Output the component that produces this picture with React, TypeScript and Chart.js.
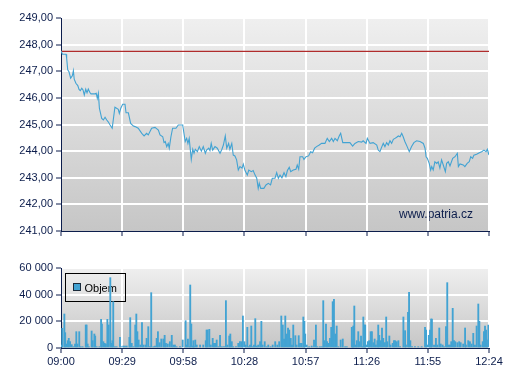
import React, { useEffect, useRef } from 'react';
import { Chart, registerables } from 'chart.js';

Chart.register(...registerables);

// ---------- data ----------
const TICK_LABELS = ['09:00', '09:29', '09:58', '10:28', '10:57', '11:26', '11:55', '12:24'];
const SESSION_MIN = 204; // minutes from 09:00 to 12:24
const PREV_CLOSE = 247.75;
const PRICE_MIN = 241;
const PRICE_MAX = 249;
const VOLUME_MAX = 60000;
const VOLUME_LABEL = 'Objem';
const WATERMARK = 'www.patria.cz';

const priceTimes = [
  0.0, 0.7, 2.4, 2.7, 3.2, 3.8, 4.6, 5.4, 5.9, 6.3, 7.1, 8.0, 8.6, 9.2, 9.9, 10.5, 11.1, 11.8, 12.4, 13.0,
  13.7, 14.3, 16.2, 16.8, 17.3, 17.8, 18.3, 19.4, 20.2, 21.0, 21.8, 22.5, 23.4, 24.4, 25.7, 27.3, 27.8, 28.5, 29.4, 30.5,
  31.0, 32.1, 33.2, 34.5, 35.3, 36.8, 38.5, 39.6, 40.8, 41.6, 43.2, 44.8, 46.4, 47.2, 48.5, 49.1, 49.7, 50.4, 51.1, 51.6,
  52.4, 53.2, 54.8, 55.9, 58.0, 58.6, 59.2, 59.9, 60.5, 61.1, 62.1, 62.8, 63.4, 64.0, 65.0, 65.9, 66.9, 67.8, 68.8, 69.4,
  70.4, 71.0, 71.6, 72.3, 73.4, 74.5, 75.8, 76.7, 77.4, 78.3, 79.0, 79.9, 80.5, 81.4, 82.1, 82.9, 83.7, 84.5, 85.3, 86.3,
  86.9, 87.7, 88.8, 89.5, 90.7, 91.6, 92.5, 93.3, 94.0, 94.5, 95.2, 96.7, 97.7, 98.8, 99.9, 100.7, 102.0, 102.8, 103.6, 104.4,
  105.3, 106.3, 107.2, 107.9, 108.8, 109.5, 110.7, 112.0, 112.6, 113.3, 113.9, 115.2, 115.8, 116.8, 118.0, 119.0, 119.9, 120.9, 121.8, 123.1,
  124.2, 125.8, 126.9, 127.9, 129.0, 129.8, 130.6, 131.7, 132.6, 133.3, 134.3, 135.8, 137.7, 139.0, 140.1, 141.7, 143.3, 144.0, 145.4, 146.0,
  147.3, 148.8, 150.5, 151.2, 152.0, 152.8, 153.6, 154.4, 155.2, 156.0, 156.8, 157.6, 158.4, 159.2, 160.0, 160.8, 161.6, 162.4, 163.1, 163.9,
  165.0, 166.0, 167.1, 168.2, 169.5, 171.1, 172.7, 173.5, 174.0, 174.6, 175.5, 176.2, 176.7, 177.4, 178.2, 179.1, 179.8, 180.6, 181.4, 182.2,
  183.2, 183.8, 184.6, 185.4, 186.7, 187.8, 188.9, 189.4, 190.2, 191.7, 192.5, 193.6, 194.6, 195.3, 196.2, 196.8, 198.1, 199.4, 200.5, 201.6,
  202.6, 203.2, 204.0,
];
const priceValues = [
  247.76, 247.64, 247.64, 247.49, 247.05, 246.98, 246.74, 246.83, 247.02, 246.70, 246.55, 246.46, 246.32, 246.27, 246.36, 246.30, 246.11, 246.33, 246.19, 246.33,
  246.21, 246.15, 246.15, 246.17, 245.98, 246.17, 245.61, 245.23, 245.17, 245.27, 245.17, 245.10, 244.98, 244.86, 245.65, 245.57, 245.42, 245.61, 245.76, 245.76,
  245.44, 245.44, 245.04, 244.94, 244.92, 244.86, 244.67, 244.57, 244.67, 244.61, 244.86, 244.89, 244.79, 244.61, 244.54, 244.32, 244.36, 244.17, 244.29, 244.11,
  244.54, 244.86, 244.86, 244.98, 244.98, 244.67, 244.36, 244.48, 244.29, 244.48, 243.69, 244.07, 243.92, 244.07, 243.98, 244.17, 244.00, 244.17, 243.92, 244.04,
  244.11, 244.02, 244.29, 244.04, 244.17, 244.11, 243.92, 244.07, 244.23, 244.57, 244.11, 244.29, 244.07, 244.29, 243.85, 243.82, 243.67, 243.29, 243.42, 243.36,
  243.51, 243.27, 243.10, 243.29, 243.23, 243.27, 243.10, 242.98, 242.60, 242.79, 242.60, 242.60, 242.73, 242.79, 242.73, 242.98, 242.98, 243.19, 242.98, 243.10,
  243.00, 243.19, 243.04, 243.27, 243.39, 243.23, 243.29, 243.32, 243.48, 243.32, 243.79, 243.79, 243.69, 243.79, 243.82, 243.98, 243.94, 244.11, 244.17, 244.23,
  244.29, 244.29, 244.48, 244.36, 244.48, 244.36, 244.48, 244.39, 244.57, 244.67, 244.32, 244.32, 244.32, 244.19, 244.29, 244.36, 244.34, 244.39, 244.29, 244.48,
  244.29, 244.32, 244.23, 244.04, 243.98, 244.14, 244.29, 244.17, 244.32, 244.23, 244.39, 244.29, 244.44, 244.48, 244.52, 244.57, 244.54, 244.67, 244.54, 244.36,
  244.17, 243.98, 244.17, 244.32, 244.39, 244.36, 244.29, 244.11, 243.79, 243.73, 243.54, 243.29, 243.42, 243.29, 243.60, 243.54, 243.60, 243.36, 243.67, 243.48,
  243.23, 243.54, 243.60, 243.44, 243.73, 243.79, 243.92, 243.42, 243.52, 243.48, 243.42, 243.54, 243.60, 243.79, 243.73, 243.85, 243.88, 243.94, 243.98, 244.04,
  243.98, 244.07, 243.85,
];

const volumeTimes = [
  0.3, 0.6, 1.6, 2.0, 2.5, 3.2, 3.7, 4.3, 5.1, 5.9, 6.7, 7.3, 7.8, 8.7, 9.4, 10.3, 11.8, 12.2, 12.7, 13.3,
  14.6, 15.1, 15.9, 16.3, 17.0, 18.3, 19.1, 19.5, 20.2, 20.8, 21.4, 22.1, 22.7, 23.5, 24.0, 24.5, 24.9, 25.7, 26.5, 28.1,
  28.9, 29.7, 30.5, 31.3, 32.6, 33.0, 33.7, 34.5, 35.4, 35.9, 36.4, 37.0, 37.8, 38.6, 39.2, 40.2, 40.8, 41.6, 42.4, 43.0,
  44.0, 44.8, 45.6, 46.2, 47.0, 47.8, 48.8, 49.4, 50.0, 50.9, 51.9, 52.8, 53.5, 54.3, 55.1, 56.7, 58.0, 59.4, 59.9, 60.5,
  61.2, 61.6, 62.1, 62.8, 63.1, 63.4, 64.0, 64.7, 66.3, 67.8, 69.0, 69.4, 69.9, 70.7, 71.4, 72.3, 72.9, 73.5, 74.2, 75.0,
  75.8, 76.7, 77.7, 78.6, 79.3, 80.2, 80.7, 81.4, 82.1, 83.4, 84.5, 85.3, 86.1, 86.7, 87.4, 88.0, 88.8, 89.5, 90.1, 90.7,
  91.4, 92.0, 92.6, 93.3, 94.0, 94.9, 95.5, 96.1, 97.1, 98.0, 98.8, 99.9, 100.9, 102.1, 103.1, 104.0, 105.0, 105.7, 106.3, 106.9,
  107.6, 108.2, 108.8, 109.5, 110.1, 110.7, 111.7, 112.3, 113.3, 113.9, 114.7, 115.5, 116.0, 116.4, 117.1, 118.3, 119.5, 120.6, 121.5, 122.2,
  123.4, 124.3, 125.0, 125.5, 126.3, 126.8, 127.4, 128.2, 128.8, 129.5, 130.1, 130.7, 131.4, 132.2, 133.3, 134.3, 135.4, 136.2, 138.6, 139.0,
  139.3, 139.8, 140.5, 141.0, 141.7, 142.2, 143.0, 143.6, 144.1, 144.6, 145.0, 145.7, 146.3, 146.9, 147.6, 148.2, 148.9, 149.5, 150.1, 150.8,
  151.2, 151.7, 152.4, 153.0, 153.6, 154.4, 155.0, 155.5, 156.5, 157.1, 158.1, 158.7, 159.3, 160.0, 160.8, 161.6, 163.2, 164.0, 164.4, 165.4,
  165.9, 166.5, 167.3, 168.7, 170.3, 171.9, 173.5, 174.0, 174.6, 175.3, 175.9, 176.4, 176.8, 177.8, 178.7, 179.4, 180.3, 181.0, 181.9, 182.6,
  183.5, 184.1, 184.8, 185.4, 186.0, 186.7, 187.3, 187.9, 188.9, 189.8, 190.5, 191.7, 192.6, 193.0, 194.1, 194.9, 195.7, 196.5, 197.3, 198.1,
  198.9, 199.4, 200.0, 201.0, 201.6, 202.1, 202.6, 203.0, 203.7,
];
const volumeValues = [
  2250, 14750, 25500, 11500, 3000, 5500, 7250, 4750, 2500, 1000, 3000, 12250, 3000, 12250, 1000, 1000, 17250, 17250, 3000, 1000,
  12750, 5500, 10500, 9000, 1000, 1000, 21500, 18000, 4750, 3500, 3000, 21500, 17250, 52750, 3500, 5500, 34750, 1000, 1000, 8000,
  1000, 1500, 1500, 1500, 8000, 22750, 3500, 1000, 17250, 25500, 12250, 6000, 2250, 19000, 2250, 2250, 7250, 16000, 1000, 41500,
  1000, 1500, 7250, 12250, 4000, 6750, 6750, 9500, 3500, 3000, 4750, 9500, 2250, 2250, 1000, 1000, 6000, 20500, 2250, 6750,
  1000, 47250, 18000, 1500, 5500, 1000, 6000, 2250, 2250, 2250, 5500, 13500, 13500, 14000, 2250, 7250, 3500, 3500, 6000, 1000,
  9500, 1000, 1000, 35500, 2250, 9000, 10500, 4750, 1000, 1000, 3500, 4750, 4750, 24000, 4750, 2250, 15500, 1000, 2250, 16500,
  1000, 2250, 22000, 1500, 2250, 4750, 20000, 2250, 4750, 1000, 2250, 1000, 2250, 4750, 2250, 4750, 24000, 17250, 6750, 24000,
  10500, 15000, 13500, 7250, 2250, 17250, 9250, 2250, 9250, 3500, 3500, 23250, 20000, 10500, 2250, 1000, 1500, 6000, 17250, 1000,
  1000, 1000, 35500, 5500, 18000, 4750, 3500, 7250, 15500, 34750, 36500, 10500, 16500, 1000, 6000, 6750, 1000, 1000, 15500, 6000,
  16500, 31500, 2250, 5500, 12250, 4750, 9000, 1000, 23250, 17250, 17250, 2250, 4750, 5500, 12250, 12250, 4000, 6750, 2250, 5500,
  17250, 9500, 5500, 15000, 7250, 4000, 23250, 4750, 9000, 2250, 3500, 5500, 5500, 4750, 5500, 1000, 23250, 13000, 2250, 26750,
  41750, 5500, 1000, 1000, 1000, 1000, 15500, 13500, 2250, 9500, 13500, 21750, 21750, 2250, 7250, 2250, 15000, 3000, 2250, 1000,
  16000, 49000, 2250, 2250, 4750, 29750, 5500, 4750, 4000, 4750, 4000, 3000, 15000, 2250, 5500, 4750, 3000, 11000, 2250, 16500,
  33000, 20000, 2250, 4750, 12250, 16500, 13500, 6000, 17250,
];

// ---------- styles ----------
const NAVY = '#0c1d4c';
const BLUE = '#42a3d3';
const RED = '#b02c2c';
const FONT = { family: '"Liberation Sans", Arial, sans-serif', size: 11 };

const bgPlugin = (watermark: boolean) => ({
  id: 'panelBg',
  beforeDraw(chart: any) {
    const { ctx, chartArea: a } = chart;
    ctx.save();
    const g = ctx.createLinearGradient(0, a.top, 0, a.bottom);
    g.addColorStop(0, '#efefef');
    g.addColorStop(1, '#c6c6c6');
    ctx.fillStyle = g;
    ctx.fillRect(a.left, a.top, a.right - a.left, a.bottom - a.top);
    if (watermark) {
      ctx.fillStyle = NAVY;
      ctx.font = '12px "Liberation Sans", Arial, sans-serif';
      ctx.textAlign = 'right';
      ctx.textBaseline = 'alphabetic';
      ctx.fillText(WATERMARK, a.right - 16, a.bottom - 13);
    }
    ctx.restore();
  },
});

const legendBoxPlugin = {
  id: 'legendBox',
  beforeDatasetsDraw(chart: any) {
    const { ctx, chartArea: a } = chart;
    const label = chart.data.datasets[0].label;
    ctx.save();
    const x = a.left + 4.5;
    const y = a.top + 5.5;
    ctx.strokeStyle = '#000';
    ctx.lineWidth = 1;
    ctx.strokeRect(x, y, 60, 28);
    ctx.fillStyle = BLUE;
    ctx.fillRect(x + 8, y + 10, 7, 7);
    ctx.strokeStyle = '#1a2a3a';
    ctx.strokeRect(x + 8, y + 10, 7, 7);
    ctx.fillStyle = '#000';
    ctx.font = '11px "Liberation Sans", Arial, sans-serif';
    ctx.textBaseline = 'alphabetic';
    ctx.textAlign = 'left';
    ctx.fillText(label, x + 19, y + 18.5);
    ctx.restore();
  },
};

function timeAxis(showLabels: boolean, height: number) {
  return {
    type: 'linear',
    min: 0,
    max: SESSION_MIN,
    offset: false,
    afterBuildTicks: (s: any) => {
      s.ticks = TICK_LABELS.map((_, i) => ({ value: (i * SESSION_MIN) / (TICK_LABELS.length - 1) }));
    },
    afterFit: (s: any) => {
      s.height = height;
    },
    ticks: {
      autoSkip: false,
      maxRotation: 0,
      padding: 2,
      color: NAVY,
      font: FONT,
      callback: (_v: any, i: number) => (showLabels ? TICK_LABELS[i] : ''),
    },
    grid: {
      offset: false,
      color: (c: any) => (c.index === 0 ? 'rgba(0,0,0,0)' : '#ffffff'),
      lineWidth: 2,
      tickColor: NAVY,
      tickWidth: 1,
      tickLength: 5,
    },
    border: { color: NAVY, width: 1 },
  };
}

function valueAxis(min: number, max: number, step: number, fmt: (v: number) => string) {
  return {
    min,
    max,
    afterFit: (s: any) => {
      s.width = 61;
    },
    ticks: { stepSize: step, color: NAVY, font: FONT, padding: 3, callback: (v: any) => fmt(Number(v)) },
    grid: {
      color: (c: any) => (c.index === 0 ? 'rgba(0,0,0,0)' : '#ffffff'),
      lineWidth: 2,
      tickColor: NAVY,
      tickWidth: 1,
      tickLength: 5,
    },
    border: { color: NAVY, width: 1 },
  };
}

const fmtPrice = (v: number) => v.toFixed(2).replace('.', ',');
const fmtVolume = (v: number) => String(Math.round(v)).replace(/\B(?=(\d{3})+(?!\d))/g, ' ');

export default function App() {
  const priceRef = useRef<HTMLCanvasElement>(null);
  const volRef = useRef<HTMLCanvasElement>(null);

  useEffect(() => {
    const priceChart = new Chart(priceRef.current as HTMLCanvasElement, {
      type: 'line',
      data: {
        datasets: [
          {
            label: 'Cena',
            data: priceTimes.map((t, i) => ({ x: t, y: priceValues[i] })),
            borderColor: BLUE,
            borderWidth: 1.1,
            pointRadius: 0,
            tension: 0,
          },
          {
            label: 'Předchozí závěr',
            data: [
              { x: 0, y: PREV_CLOSE },
              { x: SESSION_MIN, y: PREV_CLOSE },
            ],
            borderColor: RED,
            borderWidth: 1.3,
            pointRadius: 0,
          },
        ],
      },
      options: {
        responsive: false,
        animation: false,
        devicePixelRatio: 1,
        layout: { padding: { top: 18, right: 18, left: 0, bottom: 0 } },
        plugins: { legend: { display: false }, tooltip: { enabled: false } },
        scales: {
          x: timeAxis(false, 19) as any,
          y: valueAxis(PRICE_MIN, PRICE_MAX, 1, fmtPrice) as any,
        },
      },
      plugins: [bgPlugin(true)],
    });

    const volChart = new Chart(volRef.current as HTMLCanvasElement, {
      type: 'bar',
      data: {
        datasets: [
          {
            label: VOLUME_LABEL,
            data: volumeTimes.map((t, i) => ({ x: t, y: volumeValues[i] })),
            backgroundColor: BLUE,
            barThickness: 1.2,
            grouped: false,
          },
        ],
      },
      options: {
        responsive: false,
        animation: false,
        devicePixelRatio: 1,
        layout: { padding: { top: 18, right: 18, left: 0, bottom: 0 } },
        plugins: { legend: { display: false }, tooltip: { enabled: false } },
        scales: {
          x: timeAxis(true, 32) as any,
          y: valueAxis(0, VOLUME_MAX, 20000, fmtVolume) as any,
        },
      },
      plugins: [bgPlugin(false), legendBoxPlugin],
    });

    return () => {
      priceChart.destroy();
      volChart.destroy();
    };
  }, []);

  return (
    <div style={{ position: 'fixed', left: 0, top: 0, width: 507, height: 380, background: '#fff' }}>
      <canvas ref={priceRef} width={507} height={250} style={{ position: 'absolute', left: 0, top: 0, width: 507, height: 250 }} />
      <canvas ref={volRef} width={507} height={130} style={{ position: 'absolute', left: 0, top: 250, width: 507, height: 130 }} />
    </div>
  );
}
